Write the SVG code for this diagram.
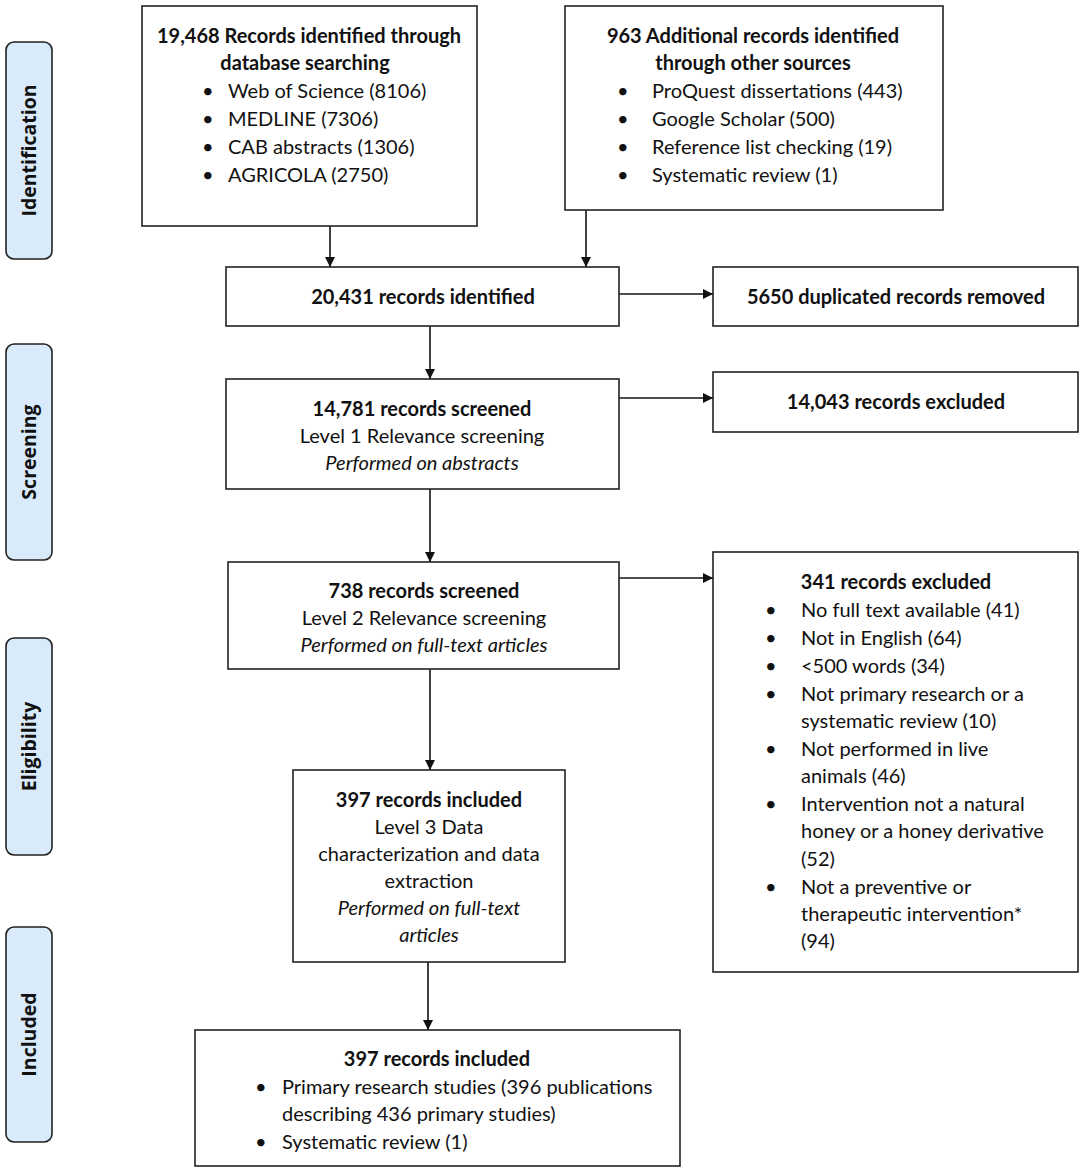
<svg xmlns="http://www.w3.org/2000/svg" width="1084" height="1172" viewBox="0 0 1084 1172">
<style>
text{font-family:Lato,"Open Sans","Liberation Sans",sans-serif;font-size:20px;fill:#111}
.b{font-weight:bold}
.i{font-style:italic}
.c{text-anchor:middle}
.pt{font-family:"Open Sans",Lato,sans-serif;font-weight:bold;font-size:19.5px;text-anchor:middle}
.box{fill:#fff;stroke:#222;stroke-width:1.6}
.ph{fill:#d9ebfa;stroke:#222;stroke-width:1.6}
.ln{stroke:#111;stroke-width:1.6;fill:none}
</style>
<defs>
<marker id="ah" viewBox="0 0 10 10" refX="10" refY="5" markerWidth="10" markerHeight="10" markerUnits="userSpaceOnUse" orient="auto">
<path d="M0,0 L10,5 L0,10 z" fill="#111"/>
</marker>
</defs>
<rect width="1084" height="1172" fill="#fff"/>

<g id="phase-identification">
<rect class="ph" x="6" y="42" width="46" height="217" rx="8"/>
<text class="pt" transform="translate(36,150.5) rotate(-90)">Identification</text>
</g>
<g id="phase-screening">
<rect class="ph" x="6" y="344" width="46" height="216" rx="8"/>
<text class="pt" transform="translate(36,452) rotate(-90)">Screening</text>
</g>
<g id="phase-eligibility">
<rect class="ph" x="6" y="638" width="46" height="217" rx="8"/>
<text class="pt" transform="translate(36,746.5) rotate(-90)">Eligibility</text>
</g>
<g id="phase-included">
<rect class="ph" x="6" y="927" width="46" height="215" rx="8"/>
<text class="pt" transform="translate(36,1034.5) rotate(-90)">Included</text>
</g>

<g id="connectors">
<line class="ln" x1="330" y1="226" x2="330" y2="267" marker-end="url(#ah)"/>
<line class="ln" x1="586" y1="210" x2="586" y2="267" marker-end="url(#ah)"/>
<line class="ln" x1="619" y1="294" x2="713" y2="294" marker-end="url(#ah)"/>
<line class="ln" x1="430" y1="326" x2="430" y2="379" marker-end="url(#ah)"/>
<line class="ln" x1="619" y1="398" x2="713" y2="398" marker-end="url(#ah)"/>
<line class="ln" x1="430" y1="489" x2="430" y2="562" marker-end="url(#ah)"/>
<line class="ln" x1="619" y1="578" x2="713" y2="578" marker-end="url(#ah)"/>
<line class="ln" x1="430" y1="669" x2="430" y2="770" marker-end="url(#ah)"/>
<line class="ln" x1="428" y1="962" x2="428" y2="1030" marker-end="url(#ah)"/>
</g>

<g id="node-database">
<rect class="box" x="142" y="6" width="335" height="220"/>
<text class="b c" x="309" y="43">19,468 Records identified through</text>
<text class="b c" x="305" y="70">database searching</text>
<text x="202" y="98">•</text><text x="228" y="98">Web of Science (8106)</text>
<text x="202" y="126">•</text><text x="228" y="126">MEDLINE (7306)</text>
<text x="202" y="154">•</text><text x="228" y="154">CAB abstracts (1306)</text>
<text x="202" y="182">•</text><text x="228" y="182">AGRICOLA (2750)</text>
</g>

<g id="node-other">
<rect class="box" x="565" y="6" width="378" height="204"/>
<text class="b c" x="753" y="43">963 Additional records identified</text>
<text class="b c" x="753" y="70">through other sources</text>
<text x="617" y="98">•</text><text x="652" y="98">ProQuest dissertations (443)</text>
<text x="617" y="126">•</text><text x="652" y="126">Google Scholar (500)</text>
<text x="617" y="154">•</text><text x="652" y="154">Reference list checking (19)</text>
<text x="617" y="182">•</text><text x="652" y="182">Systematic review (1)</text>
</g>

<g id="node-identified">
<rect class="box" x="226" y="267" width="393" height="59"/>
<text class="b c" x="423" y="304">20,431 records identified</text>
</g>

<g id="node-duplicates">
<rect class="box" x="713" y="267" width="365" height="59"/>
<text class="b c" x="896" y="304">5650 duplicated records removed</text>
</g>

<g id="node-screened1">
<rect class="box" x="226" y="379" width="393" height="110"/>
<text class="b c" x="422" y="416">14,781 records screened</text>
<text class="c" x="422" y="443">Level 1 Relevance screening</text>
<text class="i c" x="422" y="470">Performed on abstracts</text>
</g>

<g id="node-excluded1">
<rect class="box" x="713" y="372" width="365" height="60"/>
<text class="b c" x="896" y="409">14,043 records excluded</text>
</g>

<g id="node-screened2">
<rect class="box" x="228" y="562" width="391" height="107"/>
<text class="b c" x="424" y="598">738 records screened</text>
<text class="c" x="424" y="625">Level 2 Relevance screening</text>
<text class="i c" x="424" y="652">Performed on full-text articles</text>
</g>

<g id="node-excluded2">
<rect class="box" x="713" y="552" width="365" height="420"/>
<text class="b c" x="896" y="589">341 records excluded</text>
<text x="765" y="617">•</text><text x="801" y="617">No full text available (41)</text>
<text x="765" y="645">•</text><text x="801" y="645">Not in English (64)</text>
<text x="765" y="673">•</text><text x="801" y="673">&lt;500 words (34)</text>
<text x="765" y="701">•</text><text x="801" y="701">Not primary research or a</text>
<text x="801" y="728">systematic review (10)</text>
<text x="765" y="756">•</text><text x="801" y="756">Not performed in live</text>
<text x="801" y="783">animals (46)</text>
<text x="765" y="811">•</text><text x="801" y="811">Intervention not a natural</text>
<text x="801" y="838">honey or a honey derivative</text>
<text x="801" y="866">(52)</text>
<text x="765" y="894">•</text><text x="801" y="894">Not a preventive or</text>
<text x="801" y="921">therapeutic intervention*</text>
<text x="801" y="948">(94)</text>
</g>

<g id="node-included-level3">
<rect class="box" x="293" y="770" width="272" height="192"/>
<text class="b c" x="429" y="807">397 records included</text>
<text class="c" x="429" y="834">Level 3 Data</text>
<text class="c" x="429" y="861">characterization and data</text>
<text class="c" x="429" y="888">extraction</text>
<text class="i c" x="429" y="915">Performed on full-text</text>
<text class="i c" x="429" y="942">articles</text>
</g>

<g id="node-included-final">
<rect class="box" x="195" y="1030" width="485" height="136"/>
<text class="b c" x="437" y="1066">397 records included</text>
<text x="255" y="1094">•</text><text x="282" y="1094">Primary research studies (396 publications</text>
<text x="282" y="1121">describing 436 primary studies)</text>
<text x="255" y="1149">•</text><text x="282" y="1149">Systematic review (1)</text>
</g>
</svg>
